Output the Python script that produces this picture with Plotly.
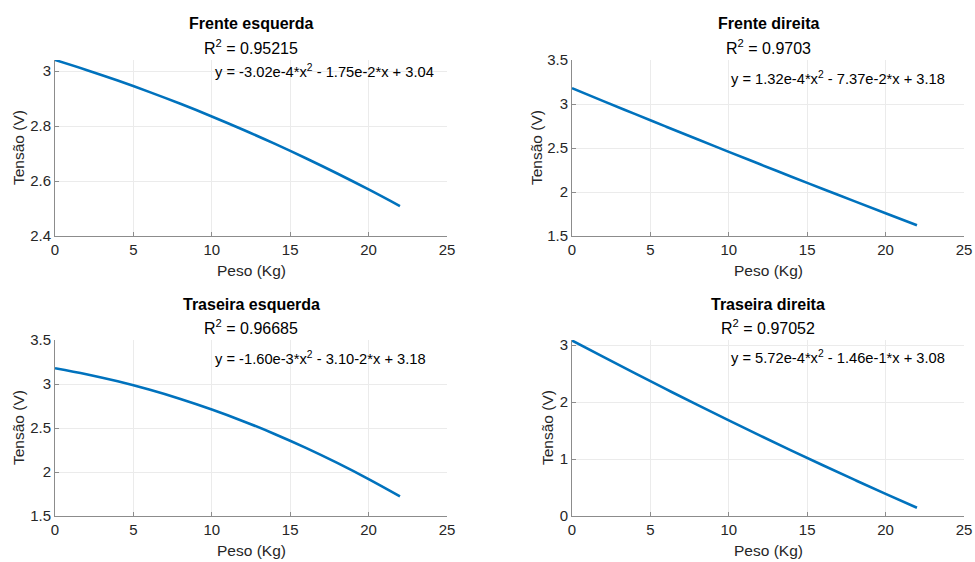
import plotly.graph_objects as go

# Data (x: Peso in Kg, y: Tensão in V)
peso = [0, 2, 4, 6, 8, 10, 12, 14, 16, 18, 20, 22]
frente_esquerda = [3.04, 3.0038, 2.9652, 2.9241, 2.8807, 2.8348, 2.7865, 2.7358, 2.6827, 2.6272, 2.5692, 2.5088]
frente_direita = [3.18, 3.0331, 2.8873, 2.7426, 2.5988, 2.4562, 2.3146, 2.1741, 2.0346, 1.8962, 1.7588, 1.6225]
traseira_esquerda = [3.18, 3.1116, 3.0304, 2.9364, 2.8296, 2.71, 2.5776, 2.4324, 2.2744, 2.1036, 1.92, 1.7236]
traseira_direita = [3.08, 2.7903, 2.5052, 2.2246, 1.9486, 1.6772, 1.4104, 1.1481, 0.8904, 0.6373, 0.3888, 0.1448]

titles = ["Frente esquerda", "Frente direita", "Traseira esquerda", "Traseira direita"]
r2_values = ["0.95215", "0.9703", "0.96685", "0.97052"]
equations = [
    "y = -3.02e-4*x<sup>2</sup> - 1.75e-2*x + 3.04",
    "y = 1.32e-4*x<sup>2</sup> - 7.37e-2*x + 3.18",
    "y = -1.60e-3*x<sup>2</sup> - 3.10-2*x + 3.18",
    "y = 5.72e-4*x<sup>2</sup> - 1.46e-1*x + 3.08",
]
series = [frente_esquerda, frente_direita, traseira_esquerda, traseira_direita]
y_ranges = [[2.4, 3.04], [1.5, 3.5], [1.5, 3.5], [0, 3.088]]
y_dtick = [0.2, 0.5, 0.5, 1]

W, H = 975, 562
x_doms = [[55 / W, 447 / W], [572 / W, 964 / W]]
y_doms = [[1 - 236 / H, 1 - 60 / H], [1 - 516 / H, 1 - 340 / H]]

FONT = "Liberation Sans, Arial, sans-serif"
TXT = "#262626"
fig = go.Figure()
annotations = []
ytitle_x_px = [18, 536, 18, 547]
eq_y_px = [73, 80, 360, 359]
for i in range(4):
    r, c = divmod(i, 2)
    ax = "" if i == 0 else str(i + 1)
    fig.add_trace(go.Scatter(
        x=peso, y=series[i], mode="lines",
        line=dict(color="#0072BD", width=2.6, shape="spline"),
        xaxis="x" + ax, yaxis="y" + ax, showlegend=False, hoverinfo="x+y",
    ))
    common = dict(
        showgrid=True, gridcolor="#ebebeb", gridwidth=1,
        showline=True, linecolor="#8c8c8c", linewidth=1,
        ticks="inside", ticklen=4, tickcolor="#8c8c8c",
        tickfont=dict(family=FONT, size=15, color=TXT),
        zeroline=False, mirror=False, automargin=False,
    )
    fig.layout["xaxis" + ax] = dict(
        domain=x_doms[c], anchor="y" + ax, range=[0, 25], dtick=5, tick0=0,
        **common,
    )
    fig.layout["yaxis" + ax] = dict(
        domain=y_doms[r], anchor="x" + ax, range=y_ranges[i], dtick=y_dtick[i], tick0=0,
        **common,
    )
    xmid = (x_doms[c][0] + x_doms[c][1]) / 2
    top_px = 60 if r == 0 else 340
    bot_px = 236 if r == 0 else 516
    annotations.append(dict(
        text="<b>" + titles[i] + "</b>", x=xmid, y=1 - (top_px - 36) / H,
        xref="paper", yref="paper", xanchor="center", yanchor="middle",
        showarrow=False, font=dict(family=FONT, size=16, color="#000000"),
    ))
    annotations.append(dict(
        text="R<sup>2</sup> = " + r2_values[i], x=xmid, y=1 - (top_px - 13) / H,
        xref="paper", yref="paper", xanchor="center", yanchor="middle",
        showarrow=False, font=dict(family=FONT, size=16, color="#000000"),
    ))
    eq_left_px = 213 if c == 0 else 729
    annotations.append(dict(
        text=equations[i], x=eq_left_px / W, y=1 - (eq_y_px[i] - 2) / H,
        xref="paper", yref="paper", xanchor="left", yanchor="middle",
        showarrow=False, font=dict(family=FONT, size=14.7, color="#000000"),
    ))
    annotations.append(dict(
        text="Peso (Kg)", x=xmid, y=1 - (bot_px + 34) / H,
        xref="paper", yref="paper", xanchor="center", yanchor="middle",
        showarrow=False, font=dict(family=FONT, size=15.5, color=TXT),
    ))
    annotations.append(dict(
        text="Tensão (V)", x=ytitle_x_px[i] / W, y=1 - ((top_px + bot_px) / 2) / H,
        xref="paper", yref="paper", xanchor="center", yanchor="middle", textangle=-90,
        showarrow=False, font=dict(family=FONT, size=15.5, color=TXT),
    ))

fig.update_layout(
    width=W, height=H, margin=dict(l=0, r=0, t=0, b=0, autoexpand=False),
    paper_bgcolor="white", plot_bgcolor="white",
    annotations=annotations, showlegend=False,
)
fig.write_html("out.html")
